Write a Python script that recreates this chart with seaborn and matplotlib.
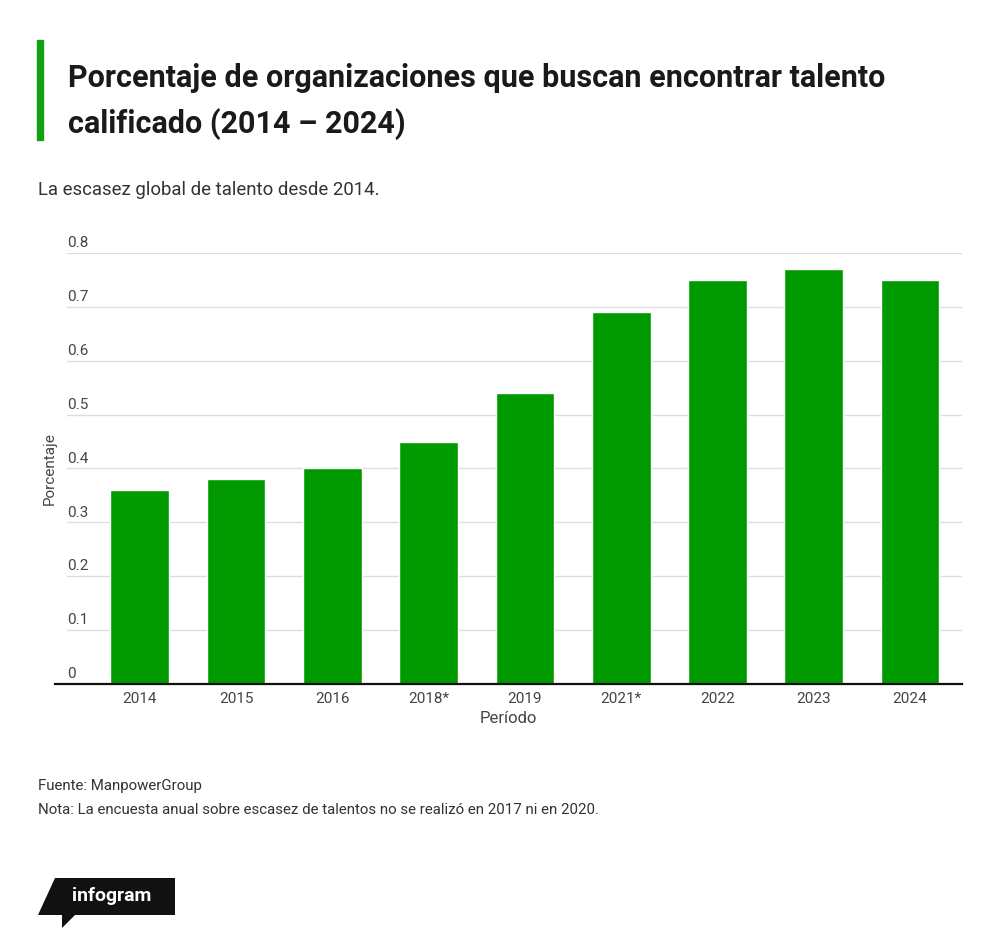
import matplotlib
matplotlib.use("Agg")
import matplotlib.pyplot as plt
import seaborn as sns
import pandas as pd
from matplotlib.patches import Polygon, Rectangle

# ---- data ----
periods = ["2014", "2015", "2016", "2018*", "2019", "2021*", "2022", "2023", "2024"]
values = [0.36, 0.38, 0.40, 0.45, 0.54, 0.69, 0.75, 0.77, 0.75]
yticks = [0, 0.1, 0.2, 0.3, 0.4, 0.5, 0.6, 0.7, 0.8]
ytick_labels = ["0", "0.1", "0.2", "0.3", "0.4", "0.5", "0.6", "0.7", "0.8"]

title_text = "Porcentaje de organizaciones que buscan encontrar talento\ncalificado (2014 – 2024)"
subtitle_text = "La escasez global de talento desde 2014."
source_text = "Fuente: ManpowerGroup"
note_text = "Nota: La encuesta anual sobre escasez de talentos no se realizó en 2017 ni en 2020."

GREEN = "#009a00"
TXT = "#333333"

sns.set_theme(style="white")
plt.rcParams["font.family"] = ["Roboto", "DejaVu Sans"]

W, H = 1000, 947
fig = plt.figure(figsize=(W / 100, H / 100), dpi=100)
fig.patch.set_facecolor("white")

def fx(px):
    return px / W

def fy(py):
    return 1 - py / H

ax_l, ax_r, ax_t, ax_b = 55, 962, 253, 684
ax = fig.add_axes([fx(ax_l), fy(ax_b), fx(ax_r - ax_l), (ax_b - ax_t) / H])

df = pd.DataFrame({"Período": periods, "Porcentaje": values})
sns.barplot(data=df, x="Período", y="Porcentaje", color=GREEN, width=0.61,
            saturation=1, ax=ax, zorder=3)

ax.set_xlim(-0.88, 8.54)
ax.set_ylim(0, 0.8)

for s in ["top", "right", "left"]:
    ax.spines[s].set_visible(False)
ax.spines["bottom"].set_color("#111111")
ax.spines["bottom"].set_linewidth(1.6)
ax.spines["bottom"].set_zorder(4)

ax.set_yticks([])
grid_start = (67 - ax_l) / (ax_r - ax_l)
for v, lab in zip(yticks, ytick_labels):
    if v > 0:
        ax.axhline(v, xmin=grid_start, xmax=1, color="#dddddd", linewidth=1.0, zorder=1)
    ax.annotate(lab, xy=(grid_start, v), xycoords=("axes fraction", "data"),
                xytext=(0, 2), textcoords="offset points", ha="left", va="bottom",
                fontsize=11, color="#444444")

ax.tick_params(axis="x", length=0, pad=6, labelsize=11, labelcolor="#444444")
ax.set_xlabel("Período", fontsize=12, color="#444444", labelpad=3)
ax.set_ylabel("Porcentaje", fontsize=11, color="#444444")
ax.yaxis.set_label_coords(0.002, 0.5)

# ---- title block ----
fig.patches.append(Rectangle((fx(37), fy(140)), fx(6), (140 - 40) / H,
                             transform=fig.transFigure, color="#14a014", zorder=5))
fig.text(fx(68), fy(101.5), title_text, fontsize=22, fontweight="bold", color="#1a1a1a",
         va="center", ha="left", linespacing=1.62)
fig.text(fx(38), fy(190), subtitle_text, fontsize=13.4, color=TXT, va="center", ha="left")

# ---- footer ----
fig.text(fx(38), fy(786), source_text, fontsize=10.8, color=TXT, va="center", ha="left")
fig.text(fx(38), fy(810), note_text, fontsize=10.8, color=TXT, va="center", ha="left")

# ---- infogram logo ----
logo = [(fx(55), fy(878)), (fx(175), fy(878)), (fx(175), fy(915)),
        (fx(75), fy(915)), (fx(62), fy(928)), (fx(62), fy(915)), (fx(38), fy(915))]
fig.patches.append(Polygon(logo, closed=True, transform=fig.transFigure,
                           facecolor="#111111", edgecolor="none", zorder=5))
fig.text(fx(112), fy(896), "infogram", fontsize=14, fontweight="bold", color="white",
         ha="center", va="center", zorder=6)

fig.savefig("out.png", dpi=100, facecolor="white")
